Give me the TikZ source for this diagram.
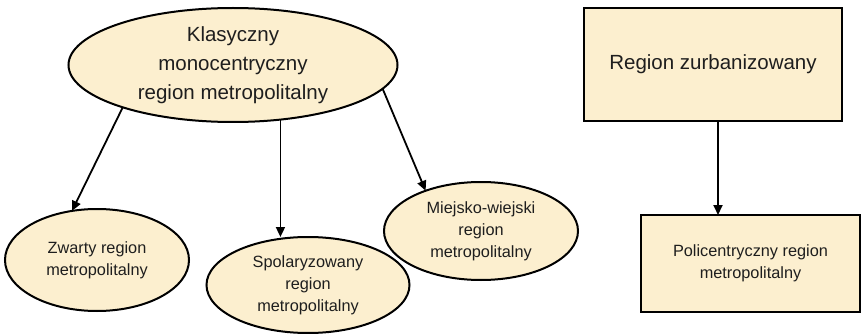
\documentclass[tikz,border=0pt]{standalone}
\usepackage{fontspec}
\setmainfont{Liberation Sans}
\usetikzlibrary{shapes.geometric,arrows.meta}
\definecolor{beige}{HTML}{FCEFCF}
\definecolor{txt}{HTML}{1E1E1E}
\begin{document}
\begin{tikzpicture}[x=1pt,y=-1pt,
  shp/.style={draw=black,line width=2pt,fill=beige,text=txt,align=center,inner sep=0pt,outer sep=0pt},
  ell/.style={shp,ellipse},
  box/.style={shp,rectangle},
  big/.style={font=\fontsize{20.5}{29}\selectfont},
  small/.style={font=\fontsize{16.3}{22}\selectfont},
  arr/.style={draw=black,line width=1.8pt,-{Triangle[length=10pt,width=9pt]}}]
\useasboundingbox (0,0) rectangle (862,334);
\node[ell,big,minimum width=329pt,minimum height=114pt] (top) at (233,65) {Klasyczny\\monocentryczny\\region metropolitalny};
\node[ell,small,minimum width=184pt,minimum height=102pt] (zw) at (97,260) {Zwarty region\\metropolitalny};
\node[ell,small,minimum width=203pt,minimum height=96pt] (sp) at (308,285) {Spolaryzowany\\region\\metropolitalny};
\node[ell,small,minimum width=194pt,minimum height=98pt] (mw) at (481,231) {Miejsko-wiejski\\region\\metropolitalny};
\node[box,big,minimum width=258pt,minimum height=113pt] (rz) at (713,64.5) {Region zurbanizowany};
\node[box,small,minimum width=219pt,minimum height=97pt] (pc) at (750.5,263.5) {Policentryczny region\\metropolitalny};
\draw[arr] (top.201.9) -- (zw.117.9);
\draw[arr] (top.311.8) -- (top.311.8 |- sp.north);
\draw[arr] (top.351.5) -- (mw.144.3);
\draw[arr] ([xshift=5pt]rz.south) -- ([xshift=5pt]rz.south |- pc.north);
\end{tikzpicture}
\end{document}
